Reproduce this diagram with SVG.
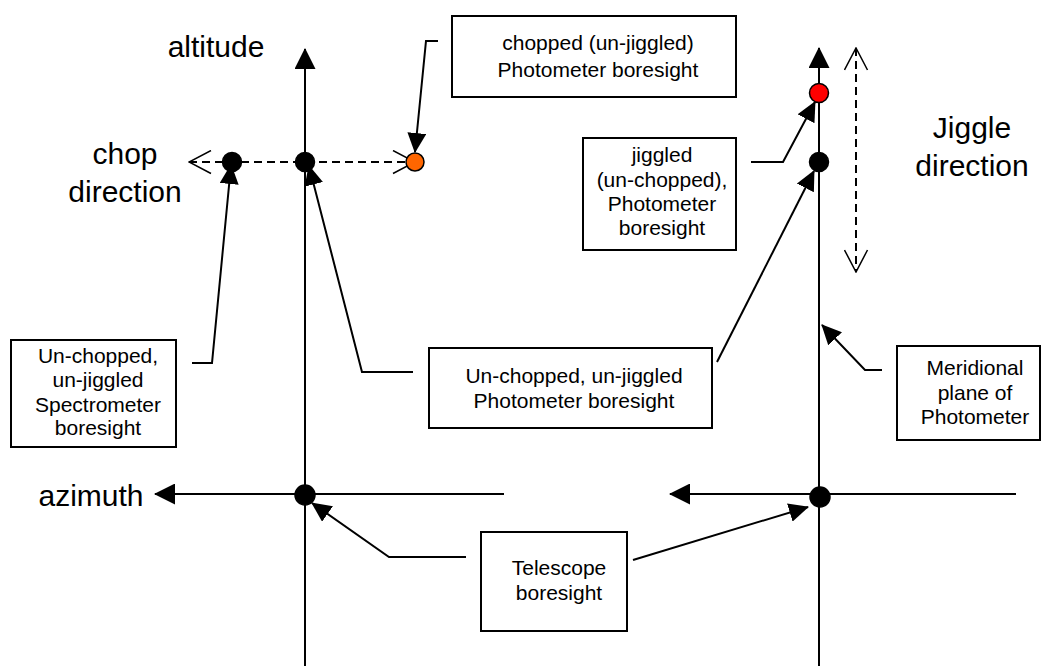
<svg xmlns="http://www.w3.org/2000/svg" width="1041" height="666" viewBox="0 0 1041 666">
  <style>
    .ln { fill: none; stroke: #000; stroke-width: 2; }
    .dash { fill: none; stroke: #000; stroke-width: 2; stroke-dasharray: 8 5; }
    .box { fill: #fff; stroke: #000; stroke-width: 2; }
    .lbl { font-family: "Liberation Sans", Arial, sans-serif; font-size: 21px; fill: #000; text-anchor: middle; }
    .big { font-family: "Liberation Sans", Arial, sans-serif; font-size: 30px; fill: #000; text-anchor: middle; }
    .dot { fill: #000; stroke: #000; stroke-width: 1.5; }
  </style>
  <defs>
    <marker id="axis" viewBox="0 0 21 21" markerUnits="userSpaceOnUse" markerWidth="21" markerHeight="21" refX="20" refY="10.5" orient="auto">
      <path d="M0,0 L21,10.5 L0,21 z" fill="#000"/>
    </marker>
    <marker id="lead" viewBox="0 0 20 19" markerUnits="userSpaceOnUse" markerWidth="20" markerHeight="19" refX="19" refY="9.5" orient="auto">
      <path d="M0,0 L20,9.5 L0,19 z" fill="#000"/>
    </marker>
    <marker id="open" viewBox="-1 -1 24 25" markerUnits="userSpaceOnUse" markerWidth="24" markerHeight="25" refX="22" refY="11.5" orient="auto-start-reverse">
      <path d="M0,0 L22,11.5 L0,23" fill="none" stroke="#000" stroke-width="1.5"/>
    </marker>
  </defs>

  <rect width="1041" height="666" fill="#fff"/>

  <!-- axes -->
  <g id="axes">
    <line class="ln" x1="305" y1="666" x2="305" y2="49" marker-end="url(#axis)"/>
    <line class="ln" x1="819" y1="666" x2="819" y2="48" marker-end="url(#axis)"/>
    <line class="ln" x1="504" y1="494" x2="155" y2="494" marker-end="url(#axis)"/>
    <line class="ln" x1="1016" y1="494" x2="670" y2="494" marker-end="url(#axis)"/>
    <!-- chop and jiggle throws -->
    <line class="dash" x1="189" y1="162" x2="415" y2="162" marker-start="url(#open)" marker-end="url(#open)"/>
    <line class="dash" x1="856" y1="48" x2="856" y2="272" marker-start="url(#open)" marker-end="url(#open)"/>
  </g>

  <!-- axis and direction captions -->
  <g id="captions">
    <text class="big" x="216" y="57">altitude</text>
    <text class="big" x="125" y="164">chop</text>
    <text class="big" x="125" y="202">direction</text>
    <text class="big" x="91" y="506">azimuth</text>
    <text class="big" x="972" y="138">Jiggle</text>
    <text class="big" x="972" y="176">direction</text>
  </g>

  <!-- leader lines -->
  <g id="connectors">
    <polyline class="ln" points="192,363 212,363 231,165" marker-end="url(#lead)"/>
    <polyline class="ln" points="413,372 362,372 309,166" marker-end="url(#lead)"/>
    <polyline class="ln" points="717,362 814,171" marker-end="url(#lead)"/>
    <polyline class="ln" points="751,162 783,162 815,102" marker-end="url(#lead)"/>
    <polyline class="ln" points="438,41 426,41 415,152" marker-end="url(#lead)"/>
    <polyline class="ln" points="882,370 865,370 822,325" marker-end="url(#lead)"/>
    <polyline class="ln" points="466,557 389,557 312,503" marker-end="url(#lead)"/>
    <polyline class="ln" points="633,560 808,507" marker-end="url(#lead)"/>
  </g>

  <!-- boresight points -->
  <g id="points">
    <circle class="dot" cx="232" cy="162" r="9.5"/>
    <circle class="dot" cx="305" cy="162" r="9.5"/>
    <circle cx="415" cy="162" r="9" fill="#FF6600" stroke="#000" stroke-width="1.5"/>
    <circle cx="819" cy="93" r="9.5" fill="#FF0000" stroke="#000" stroke-width="1.5"/>
    <circle class="dot" cx="819" cy="162" r="9.5"/>
    <circle class="dot" cx="305" cy="495" r="10"/>
    <circle class="dot" cx="820" cy="497" r="10"/>
  </g>

  <g id="chopped-box">
    <rect class="box" x="452" y="16" width="284" height="81"/>
    <text class="lbl" x="598" y="50">chopped (un-jiggled)</text>
    <text class="lbl" x="598" y="77">Photometer boresight</text>
  </g>

  <g id="jiggled-box">
    <rect class="box" x="583" y="138" width="153" height="112"/>
    <text class="lbl" x="662" y="162">jiggled</text>
    <text class="lbl" x="662" y="187">(un-chopped),</text>
    <text class="lbl" x="662" y="211">Photometer</text>
    <text class="lbl" x="662" y="235">boresight</text>
  </g>

  <g id="spectrometer-box">
    <rect class="box" x="11" y="340" width="165" height="107"/>
    <text class="lbl" x="98" y="363">Un-chopped,</text>
    <text class="lbl" x="98" y="387">un-jiggled</text>
    <text class="lbl" x="98" y="412">Spectrometer</text>
    <text class="lbl" x="98" y="435">boresight</text>
  </g>

  <g id="photometer-box">
    <rect class="box" x="429" y="348" width="283" height="80"/>
    <text class="lbl" x="574" y="383">Un-chopped, un-jiggled</text>
    <text class="lbl" x="574" y="408">Photometer boresight</text>
  </g>

  <g id="meridional-box">
    <rect class="box" x="897" y="346" width="143" height="94"/>
    <text class="lbl" x="975" y="375">Meridional</text>
    <text class="lbl" x="975" y="400">plane of</text>
    <text class="lbl" x="975" y="424">Photometer</text>
  </g>

  <g id="telescope-box">
    <rect class="box" x="481" y="532" width="146" height="99"/>
    <text class="lbl" x="559" y="575">Telescope</text>
    <text class="lbl" x="559" y="600">boresight</text>
  </g>
</svg>
